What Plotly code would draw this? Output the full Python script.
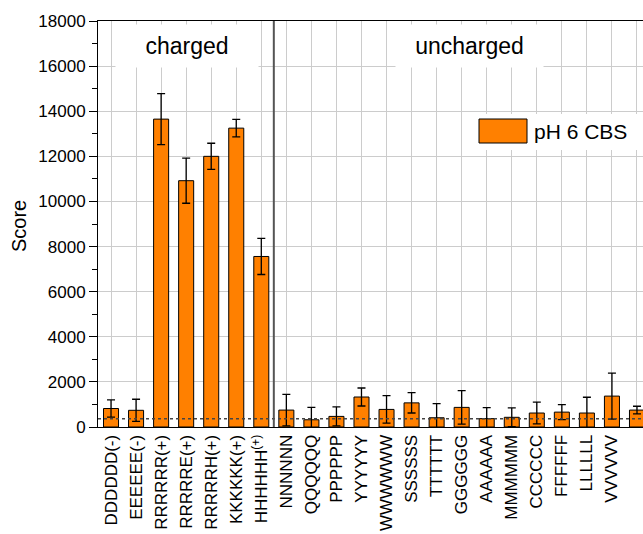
import plotly.graph_objects as go

categories = ["DDDDDD(-)", "EEEEEE(-)", "RRRRRR(+)", "RRRRRE(+)", "RRRRRH(+)", "KKKKKK(+)",
              "HHHHHH<sup>(+)</sup>", "NNNNNN", "QQQQQQ", "PPPPPP", "YYYYYY", "WWWWWW",
              "SSSSSS", "TTTTTT", "GGGGGG", "AAAAAA", "MMMMMM", "CCCCCC", "FFFFFF",
              "LLLLLL", "VVVVVV", "IIIIII"]
scores = [820, 740, 13650, 10920, 12000, 13250, 7560, 750, 320, 470, 1330, 780,
          1070, 410, 870, 370, 430, 620, 660, 620, 1370, 750]
errors = [380, 490, 1130, 1000, 580, 390, 800, 700, 550, 420, 400, 610,
          450, 630, 740, 490, 420, 480, 330, 700, 1020, 170]
series_name = "pH 6 CBS"
threshold = 370
y_ticks = [0, 2000, 4000, 6000, 8000, 10000, 12000, 14000, 16000, 18000]
group_labels = ["charged", "uncharged"]

FONT = "Liberation Sans, Arial, sans-serif"
ORANGE = "#FF8000"

W, H = 643, 534
L, T, R, B = 98, 21, 0, 107
PW, PH = W - L - R, H - T - B


def px(x):
    return (x - L) / PW


def py(y):
    return (H - B - y) / PH


idx = list(range(len(categories)))

fig = go.Figure()
fig.add_trace(go.Bar(
    x=idx, y=scores, name=series_name, width=0.6,
    marker=dict(color=ORANGE, line=dict(color="black", width=1)),
    error_y=dict(type="data", array=errors, visible=True, color="black",
                 thickness=1.3, width=4),
    showlegend=False,
))

shapes = [
    # threshold dotted line
    dict(type="line", xref="paper", yref="y", x0=0, x1=1, y0=threshold, y1=threshold,
         line=dict(color="#444444", width=1.5, dash="dot"), layer="above"),
    # separator between charged / uncharged
    dict(type="line", xref="x", yref="paper", x0=6.5, x1=6.5, y0=0, y1=1,
         line=dict(color="#555555", width=2), layer="above"),
    # legend background
    dict(type="rect", xref="paper", yref="paper", x0=px(468), x1=1.0, y0=py(150), y1=py(114),
         fillcolor="white", line=dict(width=0), layer="above"),
    # legend swatch
    dict(type="rect", xref="paper", yref="paper", x0=px(479), x1=px(527), y0=py(143), y1=py(119),
         fillcolor=ORANGE, line=dict(color="black", width=1), layer="above"),
]

annotations = [
    dict(text=group_labels[0], x=3.03, y=16900, xref="x", yref="y", showarrow=False,
         font=dict(family=FONT, size=23, color="black"), bgcolor="white",
         width=140, height=40),
    dict(text=group_labels[1], x=14.33, y=16900, xref="x", yref="y", showarrow=False,
         font=dict(family=FONT, size=23, color="black"), bgcolor="white",
         width=145, height=40),
    dict(text=series_name, x=px(532), y=py(131), xref="paper", yref="paper",
         xanchor="left", yanchor="middle", showarrow=False,
         font=dict(family=FONT, size=21, color="black")),
    dict(text="Score", x=px(19), y=py(226), xref="paper", yref="paper",
         xanchor="center", yanchor="middle",
         textangle=-90, showarrow=False, font=dict(family=FONT, size=20, color="black")),
]

fig.update_layout(
    width=W, height=H,
    margin=dict(l=L, r=R, t=T, b=B, pad=0),
    paper_bgcolor="white", plot_bgcolor="white",
    font=dict(family=FONT, size=17, color="black"),
    shapes=shapes, annotations=annotations,
    bargap=0.4,
)
fig.update_xaxes(
    range=[-0.52, 21.24], tickmode="array", tickvals=idx, ticktext=categories,
    tickangle=-90, tickfont=dict(family=FONT, size=17),
    showline=True, linecolor="black", linewidth=1, mirror=True,
    showgrid=True, gridcolor="#cccccc", gridwidth=1, ticks="", zeroline=False,
)
fig.update_yaxes(
    range=[0, 18000], tickmode="array", tickvals=y_ticks,
    ticktext=[str(v) for v in y_ticks], tickfont=dict(family=FONT, size=17),
    showline=True, linecolor="black", linewidth=1, mirror=False,
    ticks="outside", ticklen=8, tickwidth=1, tickcolor="black",
    minor=dict(dtick=1000, ticks="outside", ticklen=5, tickwidth=1, tickcolor="black", showgrid=False),
    showgrid=True, gridcolor="#cccccc", gridwidth=1, zeroline=False,
)

fig.write_html("out.html")
